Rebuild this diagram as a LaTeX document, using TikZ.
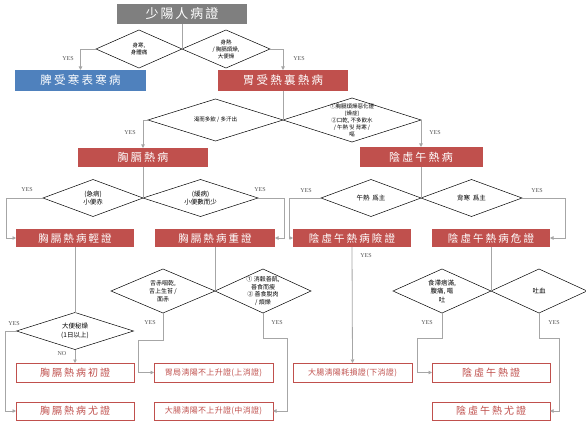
\documentclass[tikz,border=0pt]{standalone}
\usepackage{fontspec}
\usetikzlibrary{shapes.geometric,arrows.meta}
\setmainfont{Liberation Serif}
\newfontfamily\cjk{Noto Sans CJK TC}
\newfontfamily\cjkw[LetterSpace=20]{Noto Sans CJK TC}
\newfontfamily\cjkt[LetterSpace=15]{Noto Sans CJK TC}
\newfontfamily\cjkn[LetterSpace=4]{Noto Sans CJK TC}
\definecolor{boxred}{HTML}{C0504D}
\definecolor{boxblue}{HTML}{4F81BD}
\definecolor{titlegray}{HTML}{7F7F7F}
\definecolor{linegray}{HTML}{A6A6A6}
\definecolor{yesgray}{HTML}{555555}
\begin{document}
\begin{tikzpicture}[x=1pt,y=-1pt,
  titlebox/.style={fill=titlegray,text=white,inner sep=0,outer sep=0,minimum width=130pt,minimum height=20pt,font=\cjkt\fontsize{13}{15}\selectfont},
  fbox/.style={fill=boxred,text=white,inner sep=0,outer sep=0,minimum width=118pt,minimum height=18pt,font=\cjkw\fontsize{10.5}{12}\selectfont},
  obox/.style={draw=boxred,line width=0.7pt,text=boxred,fill=white,inner sep=0,outer sep=0,minimum width=118pt,minimum height=18pt,font=\cjkw\fontsize{10}{12}\selectfont},
  oboxs/.style={obox,font=\cjkn\fontsize{8}{10}\selectfont},
  dia/.style={diamond,draw=black,line width=0.5pt,fill=white,inner sep=0,outer sep=0},
  dtext/.style={align=center,inner sep=0,font=\cjk\fontsize{5.5}{7}\selectfont},
  dtextb/.style={align=center,inner sep=0,font=\cjk\fontsize{6.5}{8.5}\selectfont},
  conn/.style={draw=linegray,line width=0.8pt},
  arr/.style={conn,-{Triangle[length=3.5pt,width=3.5pt]}},
  yes/.style={inner sep=0,text=yesgray,font=\fontsize{6}{7}\selectfont}]
\useasboundingbox[fill=white] (0,0) rectangle (586,422);

% ---- level 0
\coordinate (j1) at (182,49);
\node[titlebox] (T) at (182,14) {少陽人病證};
\node[dia,minimum width=86pt,minimum height=38pt,anchor=east] (d1) at (j1) {};
\node[dia,minimum width=88pt,minimum height=38pt,anchor=west] (d2) at (j1) {};
\node[dtext] (t1) at (d1) {身寒,\\身體痛};
\node[dtext] (t2) at (d2) {身熱\\/ 胸膈煩燥,\\大便燥};
\node[fbox,fill=boxblue,minimum width=131pt,minimum height=21pt,font=\cjkw\fontsize{11.5}{13}\selectfont] (b1) at (80.5,80.5) {脾受寒表寒病};
\node[fbox,minimum width=130pt,minimum height=21pt,font=\cjkw\fontsize{11.5}{13}\selectfont] (b2) at (283,80.5) {胃受熱裏熱病};

% ---- level 1
\coordinate (j2) at (283,120);
\node[dia,minimum width=135pt,minimum height=42pt,anchor=east] (d3) at (j2) {};
\node[dia,minimum width=138pt,minimum height=44pt,anchor=west] (d4) at (j2) {};
\node[dtext] (t3) at (d3) {渴而多飲 / 多汗出};
\node[dtext] (t4) at (d4) {①胸膈煩燥惡化證\\(燥症)\\②口乾, 不多飲水\\/ 午熱 및 背寒 /\\嘔};
\node[fbox,minimum width=130pt,minimum height=19pt,font=\cjkw\fontsize{11}{13}\selectfont] (b3) at (143,157.5) {胸膈熱病};
\node[fbox,minimum width=123pt,minimum height=20pt,font=\cjkw\fontsize{11}{13}\selectfont] (b4) at (421,157) {陰虛午熱病};

% ---- level 2
\coordinate (j3) at (143,198);
\node[dia,minimum width=100pt,minimum height=37pt,anchor=east] (d5) at (j3) {};
\node[dia,minimum width=115pt,minimum height=37pt,anchor=west] (d6) at (j3) {};
\node[dtextb] (t5) at (d5) {(急病)\\小便赤};
\node[dtextb] (t6) at (d6) {(緩病)\\小便數而少};
\coordinate (j4) at (421,198);
\node[dia,minimum width=100pt,minimum height=37pt,anchor=east] (d7) at (j4) {};
\node[dia,minimum width=101pt,minimum height=37pt,anchor=west] (d8) at (j4) {};
\node[dtextb] (t7) at (d7) {午熱\ \ 爲主};
\node[dtextb] (t8) at (d8) {背寒\ \ 爲主};
\node[fbox] (b5) at (75,238) {胸膈熱病輕證};
\node[fbox,minimum width=120pt] (b6) at (215,238) {胸膈熱病重證};
\node[fbox] (b7) at (352,238) {陰虛午熱病險證};
\node[fbox] (b8) at (491,238) {陰虛午熱病危證};

% ---- level 3
\node[dia,minimum width=117pt,minimum height=37pt] (d9) at (75,331) {};
\node[dtextb] (t9) at (d9) {大便秘燥\\(1日以上)};
\coordinate (j6) at (215,291);
\node[dia,minimum width=104pt,minimum height=44pt,anchor=east] (d10) at (j6) {};
\node[dia,minimum width=96pt,minimum height=44pt,anchor=west] (d11) at (j6) {};
\node[dtext,font=\cjk\fontsize{6}{8}\selectfont] (t10) at (d10) {舌赤咽乾,\\舌上生苔 /\\面赤};
\node[dtext,font=\cjk\fontsize{6}{7.5}\selectfont] (t11) at (d11) {① 消穀善飢,\\善食而瘦\\② 善食脫肉\\/ 煩燥};
\coordinate (j8) at (491,291);
\node[dia,minimum width=98pt,minimum height=44pt,anchor=east] (d12) at (j8) {};
\node[dia,minimum width=96pt,minimum height=44pt,anchor=west] (d13) at (j8) {};
\node[dtextb] (t12) at (d12) {食滯痞滿,\\腹痛, 嘔\\吐};
\node[dtextb] (t13) at (d13) {吐血};

% ---- bottom boxes
\node[obox,minimum height=19pt] (b9) at (75,372.5) {胸膈熱病初證};
\node[obox] (b10) at (75,411) {胸膈熱病尤證};
\node[oboxs,minimum width=119pt,minimum height=19pt] (b11) at (213.5,372.5) {胃局淸陽不上升證(上消證)};
\node[oboxs,minimum width=119pt] (b12) at (213.5,411) {大腸淸陽不上升證(中消證)};
\node[oboxs,minimum width=119pt,minimum height=19pt] (b13) at (352.5,372.5) {大腸淸陽耗損證(下消證)};
\node[obox,minimum height=19pt] (b14) at (491,372.5) {陰虛午熱證};
\node[obox] (b15) at (491,411) {陰虛午熱尤證};

% ---- connectors
\draw[conn] (T.south) -- (j1);
\draw[arr] (d1.west) -| (b1.north);
\draw[arr] (d2.east) -| (b2.north);
\draw[conn] (b2.south) -- (j2);
\draw[arr] (d3.west) -| (b3.north);
\draw[arr] (d4.east) -| (b4.north);
\draw[conn] (b3.south) -- (j3);
\draw[conn] (b4.south) -- (j4);
\draw[arr] (d5.west) -- ++(-37,0) |- (b5.west);
\draw[arr] (d6.east) -- ++(26,0) |- (b6.east);
\draw[arr] (d7.west) -- ++(-32,0) |- (b7.west);
\draw[arr] (d8.east) -- ++(43,0) |- (b8.east);
\draw[conn] (b5.south) -- (d9.north);
\draw[arr] (d9.south) -- (b9.north);
\draw[arr] (d9.west) -- ++(-11.5,0) |- (b10.west);
\draw[conn] (b6.south) -- (j6);
\draw[arr] (d10.south) -- ++(0,27) -- ++(-25,0) |- (b11.west);
\draw[arr] (d11.south) -- ++(0,25) -- ++(24,0) |- (b12.east);
\draw[arr] (b7.south) -- (b13.north);
\draw[conn] (b8.south) -- (j8);
\draw[arr] (d12.south) -- ++(0,25) -- ++(-25,0) |- (b14.west);
\draw[arr] (d13.south) -- ++(0,25) -- ++(20,0) |- (b15.east);

% ---- labels
\node[yes] (y1) at (68,59) {YES};
\node[yes] (y2) at (299,59) {YES};
\node[yes] (y3) at (130,133) {YES};
\node[yes] (y4) at (435,133) {YES};
\node[yes] (y5) at (27,190) {YES};
\node[yes] (y6) at (260,190) {YES};
\node[yes] (y7) at (306,191) {YES};
\node[yes] (y8) at (537,191) {YES};
\node[yes] (y9) at (366,256) {YES};
\node[yes] (y10) at (14,324) {YES};
\node[yes] (y11) at (62,354) {NO};
\node[yes] (y12) at (150,323) {YES};
\node[yes] (y13) at (277,323) {YES};
\node[yes] (y14) at (427,323) {YES};
\node[yes] (y15) at (554,323) {YES};
\end{tikzpicture}
\end{document}
